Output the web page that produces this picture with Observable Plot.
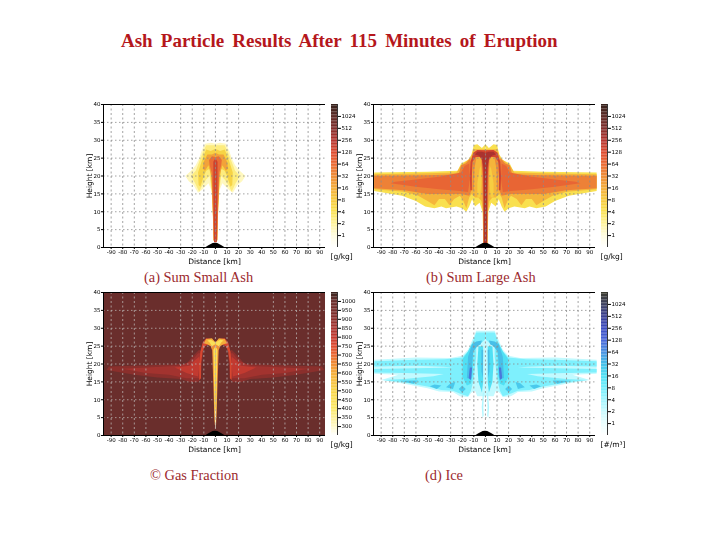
<!DOCTYPE html>
<html><head><meta charset="utf-8">
<script src="https://cdn.jsdelivr.net/npm/d3@7"></script>
<script src="https://cdn.jsdelivr.net/npm/@observablehq/plot@0.6"></script>
<style>
html,body{margin:0;padding:0;background:#fff;}
#page{position:relative;width:720px;height:540px;overflow:hidden;font-family:"Liberation Serif",serif;}
#page>div{position:absolute;}
#page svg{display:block;background:transparent;filter:blur(0.35px);}
.title{left:121px;top:30px;font-size:19px;font-weight:bold;color:#b5171c;white-space:nowrap;word-spacing:3.4px;}
.cap{font-size:14.4px;color:#9c2a2e;white-space:nowrap;}
</style></head><body><div id="page"></div>
<script>
const titleText = "Ash Particle Results After 115 Minutes of Eruption";
const xTicks = [-90,-80,-70,-60,-50,-40,-30,-20,-10,0,10,20,30,40,50,60,70,80,90];
const gridX = [-90,-80,-70,-60,-30,-20,-10,0,10,20,50,60,70,80,90];
const yTicks = [0,5,10,15,20,25,30,35,40];
const gridY = [5,10,15,20,25,30,35];
const xDomain = [-96.6,95];
const mountainX = [-8,-6,-4,-2,0,2,4,6,8];
const mountainY = [0,0.4,0.8,1.1,1.2,1.1,0.8,0.4,0];

const log2Ticks = [1,2,4,8,16,32,64,128,256,512,1024];
const gasTicks = [300,350,400,450,500,550,600,650,700,750,800,850,900,950,1000];

const ashStops = [0.5,1,2,4,8,16,32,64,128,256,512,1024,2048];
const ashColors = ["#ffffff","#fffde0","#fff39a","#f9e04f","#f6c93e","#f4ac3a","#ee8c38","#ea6a35","#dc4a30","#b23430","#7f2e2c","#5c2a25","#33201a"];
const gasStops = [250,300,400,500,600,650,700,750,800,850,900,950,1000,1050];
const gasColors = ["#ffffff","#fff9c8","#fbe866","#f8d548","#f4ac3a","#ee8c38","#ea6a35","#dc4a30","#c23a30","#a83430","#8a2f2c","#742d2b","#6a2e2c","#33201a"];
const iceStops = [0.5,1,2,4,8,16,32,64,128,256,512,1024,2048];
const iceColors = ["#ffffff","#eaffff","#c8fbff","#a0f5ff","#70eefc","#50e0f4","#48bfe8","#4a90e0","#4a66d8","#3c4cc0","#3a3f90","#3c4060","#38382a"];

const smallAshBands = [
 {level:1.4, pts:[[0,29],[4,29.3],[9,29],[12,27],[14,25],[17,23],[21,21.5],[26,20],[23,18.5],[19,17.5],[15,15.3],[12,16],[9,17],[6,18],[3.5,16],[2.5,12],[1.8,6],[1.5,2],[0,1.5]]},
 {level:2.6, pts:[[0,28.6],[8,28.6],[11,26.5],[14,24],[17,21.5],[21,20],[17.5,18],[14,15.6],[12,17],[8,19],[5,20],[3,15],[2,8],[1.6,2],[0,1.5]]},
 {level:6, pts:[[0,27.6],[4,27],[8,27.4],[11,25],[13,23],[15,21],[14.5,17.5],[13,17],[10,20],[8,21.5],[5,22],[3,16],[2,8],[1.5,2],[0,1.5]]},
 {level:20, pts:[[0,26.5],[3,26],[7,26],[10,24],[11,22],[9,21.5],[6,23],[3.5,20],[2.5,12],[1.6,2],[0,1.5]]},
 {level:60, pts:[[0,25.3],[3,25.5],[5.5,24.5],[5,23],[3.3,21],[2.3,12],[1.5,2],[0,1.5]]},
 {level:170, pts:[[0,25],[1.8,24],[1.7,16],[1.3,6],[1.2,1.5],[0,1.5]]},
];
const largeAshBands = [
 {level:4, pts:[[0,28.9],[3,27.8],[7,28.9],[10,28.7],[12,26],[15,24.5],[21,23.5],[24,21.5],[50,21.2],[96,21],[96,15.8],[72,14.5],[60,13],[52,11.5],[44,11],[38,11.5],[34,11],[25,11.5],[20,11],[16.5,10],[14,11.5],[11.5,13.5],[9,11.5],[5,12.5],[2.5,10],[1.8,1],[0,1]]},
 {level:13, pts:[[0,27.5],[10,27.5],[13,25],[21,23],[25,21],[50,20.8],[96,20.5],[96,16.3],[70,15.6],[58,14.5],[50,13],[44,11.8],[40,13.6],[35,13.6],[31,11.8],[27,13.6],[22,14.5],[19,13],[16.5,11],[14,14],[12,15],[9,14],[6,14],[3.5,13],[2,10],[1.8,1],[0,1]]},
 {level:40, pts:[[13,25],[17,23.5],[21,23],[23,20.5],[50,20.2],[96,20.1],[96,16.6],[70,16],[50,15],[30,15],[21,15],[14,14.5],[12,16],[11.5,22]]},
 {level:72, pts:[[14,23.5],[18,22.8],[21,21],[40,19.8],[60,19],[78,18.4],[82,18],[60,17],[40,16.3],[22,15.8],[15,15.5],[13.5,19]]},
 {level:7, pts:[[3.5,23],[5,22],[7,18],[7,14],[4.5,14],[3.5,18]]},
 {level:32, pts:[[7.5,25.5],[10.5,25],[11.5,16],[10,16],[9.5,22]]},
 {level:32, pts:[[0,27],[4,26],[3.2,22],[2.5,14],[1.8,6],[1.5,1],[0,1]]},
 {level:150, pts:[[0,27.2],[7,27.3],[10.5,26.5],[12.8,24],[13.5,20],[13,16],[11.7,16],[11.7,20],[11,24],[8.5,25.3],[5,25.3],[3,24.5],[2,20],[1.5,10],[1.5,1],[0,1]]},
 {level:280, pts:[[0,26.5],[3,26.8],[7,26.8],[9,26],[6,25.7],[3,25],[1.5,22],[1.4,1],[0,1]]},
];
const gasBands = [
 {level:900, pts:[[11,23],[14,24],[20,22],[25,20],[50,19.7],[92,19.3],[94,18.3],[70,17],[50,16.2],[30,15.8],[22,15],[15,15],[12.5,16],[11.5,20]]},
 {level:860, pts:[[13,23],[15,23],[20,21],[30,19.5],[60,19],[80,18.7],[60,17.5],[40,17],[25,16],[14,16],[13,18]]},
 {level:800, pts:[[14,22],[18,21],[22,19.5],[35,19],[25,17.5],[15,16.5],[14,19]]},
 {level:760, pts:[[0,26],[3,27],[8,27.2],[11,26],[13,23.5],[14,20],[14,15.5],[12.5,16],[12.5,20],[11,23.5],[9,25],[6,25.5],[4,25],[0,23]]},
 {level:600, pts:[[0,26],[3,27.2],[8,27],[10,25.8],[7,25.5],[4,25],[3,24],[0,24]]},
 {level:450, pts:[[0,26],[4,26.8],[7,26.6],[5,26],[3,25],[0,25]]},
 {level:650, pts:[[0,25.5],[3,25],[2.6,22],[1.8,14],[1,6],[0.6,3],[0,3]]},
 {level:450, pts:[[0,25],[1.8,24],[1.4,18],[1,10],[0.5,4],[0,3]]},
 {level:280, pts:[[0,8],[0.4,6],[0.3,2],[0,2]]},
];
const iceBands = [
 {level:2.2, pts:[[0,29.3],[8,29.3],[11,27],[15,24],[20,22.3],[30,21.7],[60,21.8],[96,21.2],[96,17.3],[75,17],[90,15.5],[70,14.5],[50,13.2],[40,12.3],[28,12.2],[22,11],[15,10.8],[12,12],[9,12.5],[7,11],[2.5,11],[0,11],[0,25]]},
 {level:6.5, pts:[[0,28.8],[8,28.8],[10.5,26.5],[15,23.5],[20,21.8],[35,21.3],[60,21.2],[96,20.8],[96,19.3],[60,19.5],[36,19.2],[28,19],[60,18.8],[96,18.6],[96,17.6],[70,17.5],[36,17.2],[45,16.6],[70,15.8],[88,15.5],[70,14.8],[50,13.7],[38,12.7],[28,12.5],[20,11.5],[15,11],[12.5,12.5],[10,16],[8,22],[8,25],[3,26],[0,27]]},
 {level:16, pts:[[11,26],[15,23.5],[19.5,21.5],[20,16.5],[16,14],[12.5,14.5],[11,17],[10.5,22]]},
 {level:32, pts:[[3,26.6],[8,26.3],[11.5,25.5],[15,22],[16,16],[12,16],[11.5,20],[10.5,23.5],[7,25],[4,25.5]]},
 {level:96, pts:[[11.5,19],[13.5,19],[14.5,16],[12.5,15.5]]},
 {level:16, pts:[[2,25],[6,25],[7,20],[6,15],[3,12],[2,15]]},
 {level:32, pts:[[2,24],[3.5,24],[3.5,18],[2.2,16]]},
 {level:26, pts:[[17,13],[20,12],[23,13],[20,14]]},
 {level:26, pts:[[26,15],[30,14.6],[34,13.5],[28,13]]},
 {level:26, pts:[[38,14],[44,14.3],[48,13.8],[42,13]]},
 {level:26, pts:[[58,15.4],[74,15.3],[62,14.5]]},
 {level:3, pts:[[2.2,12],[3.2,8],[2.5,5],[1.5,5.5],[1.8,8],[1.2,12]]},
];

const panels = [
 {left:103,top:104,bands:smallAshBands,bg:null,gridColor:"#8c8c8c",ylabel:"Height [km]",
  color:{type:"log",base:2,domain:ashStops,range:ashColors},unit:"[g/kg]",barTicks:log2Ticks,barDomain:[0.5,2048],barType:"log"},
 {left:373,top:104,bands:largeAshBands,bg:null,gridColor:"#8c8c8c",ylabel:"Height [km]",
  color:{type:"log",base:2,domain:ashStops,range:ashColors},unit:"[g/kg]",barTicks:log2Ticks,barDomain:[0.5,2048],barType:"log"},
 {left:103,top:292,bands:gasBands,bg:1000,gridColor:"#b8b0ae",ylabel:"Height [km]",
  color:{type:"linear",domain:gasStops,range:gasColors},unit:"[g/kg]",barTicks:gasTicks,barDomain:[250,1050],barType:"linear"},
 {left:373,top:292,bands:iceBands,bg:null,gridColor:"#8c8c8c",ylabel:"Height [km]",
  color:{type:"log",base:2,domain:iceStops,range:iceColors},unit:"[#/m³]",barTicks:log2Ticks,barDomain:[0.5,2048],barType:"log"},
];
const captions = [
 {left:144,top:269,text:"(a) Sum Small Ash"},
 {left:426,top:269,text:"(b) Sum Large Ash"},
 {left:150,top:467,text:"© Gas Fraction"},
 {left:425,top:467,text:"(d) Ice"},
];

function rows(bands){
  const out=[];
  bands.forEach((b,i)=>{
    for(const side of [1,-1]) b.pts.forEach(([x,y])=>out.push({x:side*x,y,level:b.level,id:i+"/"+side}));
  });
  return out;
}
const page=document.getElementById("page");
function place(el,left,top){const d=document.createElement("div");d.style.left=left+"px";d.style.top=top+"px";d.appendChild(el);page.appendChild(d);}
function text(cls,left,top,s){const d=document.createElement("div");d.className=cls;if(left!=null){d.style.left=left+"px";d.style.top=top+"px";}d.textContent=s;page.appendChild(d);}

text("title",null,null,titleText);

const mL=26,mT=6,mB=26,W=222,H=143;
for(const p of panels){
  const marks=[];
  if(p.bg!=null) marks.push(Plot.rect([{v:p.bg}],{x1:()=>xDomain[0],x2:()=>xDomain[1],y1:()=>0,y2:()=>40,fill:"v"}));
  marks.push(Plot.line(rows(p.bands),{x:"x",y:"y",z:"id",fill:"level",stroke:"none",curve:"linear-closed"}));
  marks.push(Plot.ruleY(gridY,{stroke:p.gridColor,strokeWidth:0.8,strokeDasharray:"1.5,2.5"}));
  marks.push(Plot.ruleX(gridX,{stroke:p.gridColor,strokeWidth:0.8,strokeDasharray:"2,2.5"}));
  marks.push(Plot.areaY(mountainX.map((x,i)=>({x,y:mountainY[i]})),{x:"x",y:"y",fill:"black"}));
  marks.push(Plot.ruleX([xDomain[0]],{stroke:"black"}));
  marks.push(Plot.ruleY([0,40],{stroke:"black"}));
  marks.push(Plot.axisX({ticks:xTicks,tickFormat:d=>String(d),tickSize:2,tickPadding:1,fontSize:5.5,label:null,fontFamily:"DejaVu Sans"}));
  marks.push(Plot.axisY({ticks:yTicks,tickFormat:d=>String(d),tickSize:2,tickPadding:1,fontSize:5.5,label:null,fontFamily:"DejaVu Sans"}));
  marks.push(Plot.text(["Distance [km]"],{frameAnchor:"bottom",dy:16,fontSize:7.5,fontFamily:"DejaVu Sans"}));
  marks.push(Plot.text([p.ylabel],{frameAnchor:"left",textAnchor:"middle",dx:-14,rotate:-90,fontSize:7.5,fontFamily:"DejaVu Sans"}));
  place(Plot.plot({width:W+mL+2,height:H+mT+mB,marginLeft:mL,marginRight:2,marginTop:mT,marginBottom:mB,
    x:{domain:xDomain},y:{domain:[0,40]},color:p.color,style:{fontFamily:"DejaVu Sans",fontSize:"6px",color:"black",background:"transparent"},marks}),p.left-mL,p.top-mT);

  // colour bar
  const [a,b]=p.barDomain;
  const scale=p.barType==="log"?d3.scaleLog().base(2).domain([a,b]):d3.scaleLinear().domain([a,b]);
  const n=96,levels=d3.range(n).map(i=>({y1:scale.invert(i/n),y2:scale.invert((i+1)/n),v:scale.invert((i+0.5)/n)}));
  place(Plot.plot({width:34,height:H+mT+mB,marginLeft:0,marginRight:28,marginTop:mT,marginBottom:mB,
    x:{domain:[0,1],axis:null},y:{type:p.barType,base:p.barType==="log"?2:undefined,domain:p.barDomain},color:p.color,
    style:{fontFamily:"DejaVu Sans",fontSize:"5.5px",background:"transparent"},
    marks:[
      Plot.rect(levels,{x1:()=>0,x2:()=>1,y1:"y1",y2:"y2",fill:"v"}),
      Plot.ruleX([1],{stroke:"black",strokeWidth:0.8}),
      Plot.axisY({anchor:"right",ticks:p.barTicks,tickFormat:d=>String(d),tickSize:3,tickPadding:1,fontSize:5.5,label:null}),
      Plot.text([p.unit],{frameAnchor:"bottom-left",dy:11,dx:-1,textAnchor:"start",fontSize:7.5,fontFamily:"DejaVu Sans"})
    ]}),p.left+W+6,p.top-mT);
}
for(const c of captions) text("cap",c.left,c.top,c.text);
</script></body></html>
